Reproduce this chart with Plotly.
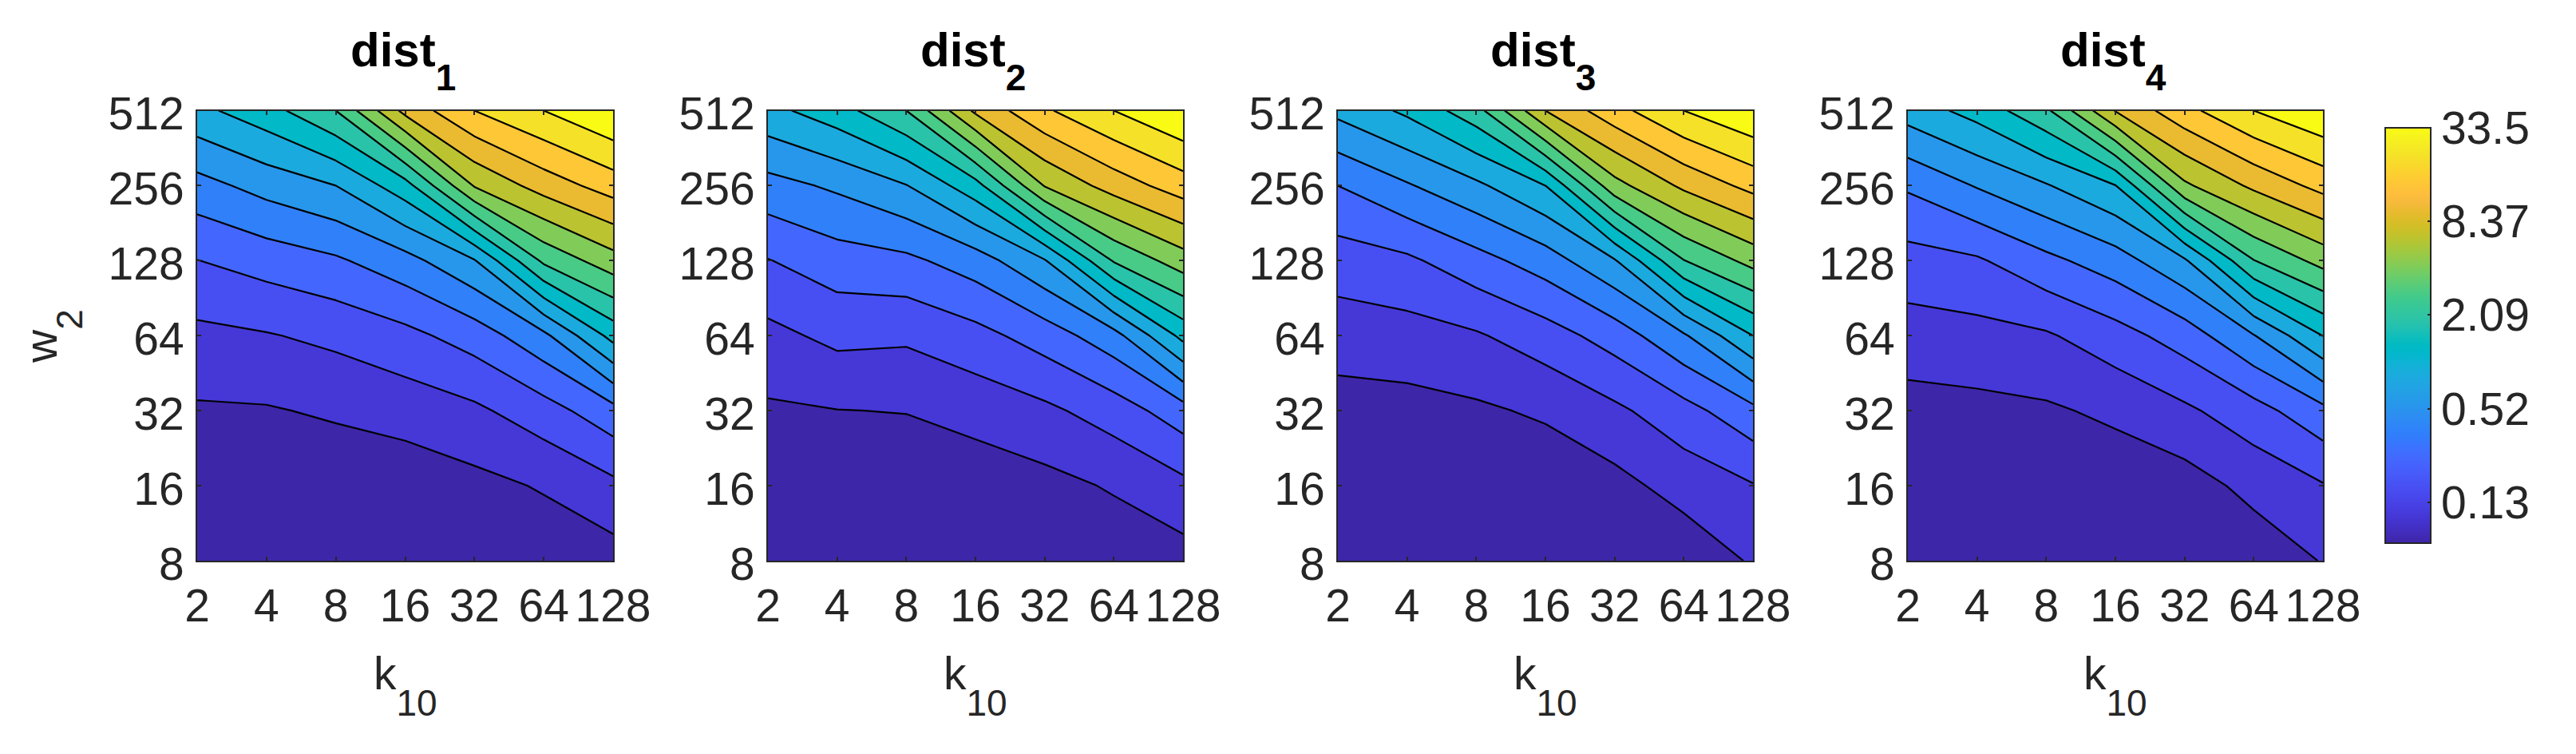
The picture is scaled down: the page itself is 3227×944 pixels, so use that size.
import math
import plotly.graph_objects as go

k_values = [2, 4, 8, 16, 32, 64, 128]
w_values = [8, 16, 32, 64, 128, 256, 512]
bar_ticks = [0.13, 0.52, 2.09, 8.37, 33.5]
bar_labels = ["0.13", "0.52", "2.09", "8.37", "33.5"]
bar_min = 0.071
bar_max = 33.5
band_count = 16

# values, in contour-level units (one unit = one filled band),
# rows are w = 8..512, columns are k = 2..128
dist_1 = [
    [0.00, 0.02, 0.05, 0.10, 0.20, 0.35, 0.58],
    [0.20, 0.25, 0.30, 0.37, 0.71, 1.09, 1.76],
    [0.88, 0.92, 1.14, 1.42, 1.80, 2.57, 3.65],
    [1.74, 1.93, 2.24, 2.71, 3.45, 4.75, 7.35],
    [2.98, 3.42, 3.85, 4.63, 5.93, 9.21, 10.60],
    [4.63, 5.37, 6.00, 7.59, 11.08, 12.44, 13.47],
    [6.73, 7.60, 9.00, 12.30, 14.00, 15.00, 16.00],
]
dist_2 = [
    [0.00, 0.02, 0.07, 0.12, 0.22, 0.35, 0.59],
    [0.20, 0.25, 0.35, 0.40, 0.69, 1.10, 1.74],
    [0.86, 0.98, 1.03, 1.37, 1.78, 2.47, 3.56],
    [1.71, 2.26, 2.17, 2.66, 3.46, 4.62, 7.30],
    [2.96, 3.54, 3.77, 4.51, 5.92, 9.09, 10.53],
    [4.64, 5.17, 5.96, 7.61, 11.06, 12.44, 13.52],
    [6.70, 7.57, 9.00, 12.20, 13.85, 15.00, 16.00],
]
dist_3 = [
    [0.00, 0.01, 0.03, 0.08, 0.20, 0.32, 1.11],
    [0.15, 0.18, 0.22, 0.30, 0.68, 1.39, 1.94],
    [0.59, 0.65, 0.84, 1.15, 1.79, 2.63, 3.72],
    [1.46, 1.60, 1.89, 2.54, 3.44, 4.87, 7.00],
    [2.50, 2.81, 3.63, 4.50, 5.91, 8.97, 10.35],
    [4.00, 4.90, 5.79, 7.00, 10.65, 12.21, 13.32],
    [6.26, 7.19, 8.60, 12.00, 13.64, 15.00, 15.92],
]
dist_4 = [
    [0.00, 0.01, 0.03, 0.08, 0.20, 0.39, 1.05],
    [0.15, 0.20, 0.25, 0.38, 0.56, 1.29, 1.93],
    [0.63, 0.72, 0.86, 1.20, 1.81, 2.61, 3.72],
    [1.53, 1.67, 1.88, 2.59, 3.47, 4.95, 7.02],
    [2.61, 2.87, 3.74, 4.53, 5.86, 8.97, 10.36],
    [4.14, 5.07, 5.92, 6.97, 10.82, 12.21, 13.33],
    [6.45, 7.37, 8.80, 12.05, 13.69, 15.00, 15.90],
]
panels = [("1", dist_1), ("2", dist_2), ("3", dist_3), ("4", dist_4)]

parula_rgb = [
    (0.2422,0.1504,0.6603),(0.2504,0.1650,0.7076),(0.2578,0.1818,0.7511),(0.2647,0.1978,0.7952),
    (0.2706,0.2147,0.8364),(0.2751,0.2342,0.8710),(0.2783,0.2559,0.8991),(0.2803,0.2782,0.9221),
    (0.2813,0.3006,0.9414),(0.2810,0.3228,0.9579),(0.2795,0.3447,0.9717),(0.2760,0.3667,0.9829),
    (0.2699,0.3892,0.9906),(0.2602,0.4123,0.9952),(0.2440,0.4358,0.9988),(0.2206,0.4603,0.9973),
    (0.1963,0.4847,0.9892),(0.1834,0.5074,0.9798),(0.1786,0.5289,0.9682),(0.1764,0.5499,0.9520),
    (0.1687,0.5703,0.9359),(0.1540,0.5902,0.9218),(0.1460,0.6091,0.9079),(0.1380,0.6276,0.8973),
    (0.1248,0.6459,0.8883),(0.1113,0.6635,0.8763),(0.0952,0.6798,0.8598),(0.0689,0.6948,0.8394),
    (0.0297,0.7082,0.8163),(0.0036,0.7203,0.7917),(0.0067,0.7312,0.7660),(0.0433,0.7411,0.7394),
    (0.0964,0.7500,0.7120),(0.1408,0.7584,0.6842),(0.1717,0.7670,0.6554),(0.1938,0.7758,0.6251),
    (0.2161,0.7843,0.5923),(0.2470,0.7918,0.5567),(0.2906,0.7973,0.5188),(0.3406,0.8008,0.4789),
    (0.3909,0.8029,0.4354),(0.4456,0.8024,0.3909),(0.5044,0.7993,0.3480),(0.5616,0.7942,0.3045),
    (0.6174,0.7876,0.2612),(0.6720,0.7793,0.2227),(0.7242,0.7698,0.1910),(0.7738,0.7598,0.1646),
    (0.8203,0.7498,0.1535),(0.8634,0.7406,0.1596),(0.9035,0.7330,0.1774),(0.9393,0.7288,0.2100),
    (0.9728,0.7298,0.2394),(0.9956,0.7434,0.2371),(0.9970,0.7659,0.2199),(0.9952,0.7893,0.2028),
    (0.9892,0.8136,0.1885),(0.9786,0.8386,0.1766),(0.9676,0.8639,0.1643),(0.9610,0.8890,0.1537),
    (0.9597,0.9135,0.1423),(0.9628,0.9373,0.1265),(0.9691,0.9606,0.1064),(0.9769,0.9839,0.0805),
]
parula = [
    [i / (len(parula_rgb) - 1), "rgb(%d,%d,%d)" % tuple(round(c * 255) for c in rgb)]
    for i, rgb in enumerate(parula_rgb)
]

WIDTH, HEIGHT = 3227, 944
PLOT_TOP, PLOT_BOTTOM = 138.5, 702
PANEL_X = [(247, 768), (962, 1482), (1676, 2196), (2390, 2910)]
INK = "#262626"
FONT = "Liberation Sans"
TICK_SIZE = 57


def px(x):
    return x / WIDTH


def py(y):
    return 1 - y / HEIGHT


def to_band(v):
    return math.log2(v / bar_min) / (math.log2(bar_max / bar_min) / band_count)


def with_sub(base, sub, shift_font):
    # the font size on <sub> sets how far the subscript drops; the inner span sets its real size
    return "%s<sub style='font-size:%dpx !important'><span style='font-size:46px'>%s</span></sub>" % (
        base, shift_font, sub)


k_pos = [math.log2(v) for v in k_values]
w_pos = [math.log2(v) for v in w_values]

fig = go.Figure()
layout = {}
annotations = []
for n, (label, z) in enumerate(panels):
    suffix = "" if n == 0 else str(n + 1)
    x0, x1 = PANEL_X[n]
    fig.add_trace(go.Contour(
        x=k_pos, y=w_pos, z=z,
        xaxis="x" + suffix, yaxis="y" + suffix,
        colorscale=parula, zmin=0, zmax=band_count, showscale=False,
        autocontour=False,
        contours=dict(start=1, end=band_count - 1, size=1, coloring="fill", showlines=True),
        line=dict(color="#000000", width=2.2, smoothing=0),
        hoverinfo="skip",
    ))
    layout["xaxis" + suffix] = dict(
        domain=[px(x0), px(x1)], range=[k_pos[0], k_pos[-1]], anchor="y" + suffix,
        tickmode="array", tickvals=k_pos, ticktext=[str(v) for v in k_values],
        ticks="inside", ticklen=5, tickwidth=1.5, tickcolor=INK, ticklabelstandoff=6,
        showgrid=False, zeroline=False, showline=True, linecolor=INK, linewidth=2, mirror="ticks",
        tickfont=dict(family=FONT, size=TICK_SIZE, color=INK),
    )
    layout["yaxis" + suffix] = dict(
        domain=[py(PLOT_BOTTOM), py(PLOT_TOP)], range=[w_pos[0], w_pos[-1]], anchor="x" + suffix,
        tickmode="array", tickvals=w_pos, ticktext=[str(v) for v in w_values],
        ticks="inside", ticklen=5, tickwidth=1.5, tickcolor=INK,
        ticklabelstandoff=3, ticklabelshift=4,
        showgrid=False, zeroline=False, showline=True, linecolor=INK, linewidth=2, mirror="ticks",
        tickfont=dict(family=FONT, size=TICK_SIZE, color=INK),
    )
    xc = (x0 + x1) / 2
    annotations.append(dict(
        text="<b>" + with_sub("dist", label, 100) + "</b>",
        x=px(xc - 3), y=py(76), xref="paper", yref="paper", xanchor="center", yanchor="middle",
        showarrow=False, font=dict(family=FONT, size=60, color="#000000"),
    ))
    annotations.append(dict(
        text=with_sub("k", "10", 110),
        x=px(xc), y=py(858), xref="paper", yref="paper", xanchor="center", yanchor="middle",
        showarrow=False, font=dict(family=FONT, size=TICK_SIZE, color=INK),
    ))

annotations.append(dict(
    text=with_sub("w", "2", 105),
    x=px(66), y=py(421), xref="paper", yref="paper", xanchor="center", yanchor="middle",
    textangle=-90, showarrow=False, font=dict(family=FONT, size=TICK_SIZE, color=INK),
))

fig.add_trace(go.Scatter(
    x=[k_pos[0], k_pos[0]], y=[w_pos[0], w_pos[0]], xaxis="x4", yaxis="y4", mode="markers",
    hoverinfo="skip", showlegend=False,
    marker=dict(
        size=0.001, opacity=0, color=[0, band_count], cmin=0, cmax=band_count,
        colorscale=parula, showscale=True,
        colorbar=dict(
            x=px(2988), xanchor="left", xpad=0, y=py(160), yanchor="top", ypad=0,
            thicknessmode="pixels", thickness=57, lenmode="pixels", len=520,
            outlinecolor=INK, outlinewidth=2, borderwidth=0,
            tickmode="array", tickvals=[to_band(v) for v in bar_ticks], ticktext=bar_labels,
            tickprefix="<span style='font-size:30px'>\u00a0</span>",
            ticks="inside", ticklen=5, tickwidth=1.5, tickcolor=INK,
            tickfont=dict(family=FONT, size=TICK_SIZE, color=INK),
        ),
    ),
))

fig.update_layout(
    width=WIDTH, height=HEIGHT, margin=dict(l=0, r=0, t=0, b=0, autoexpand=False),
    paper_bgcolor="white", plot_bgcolor="white", showlegend=False,
    annotations=annotations, **layout,
)
fig.write_html("out.html", config={"displayModeBar": False}, post_script="document.body.style.margin='0';")
